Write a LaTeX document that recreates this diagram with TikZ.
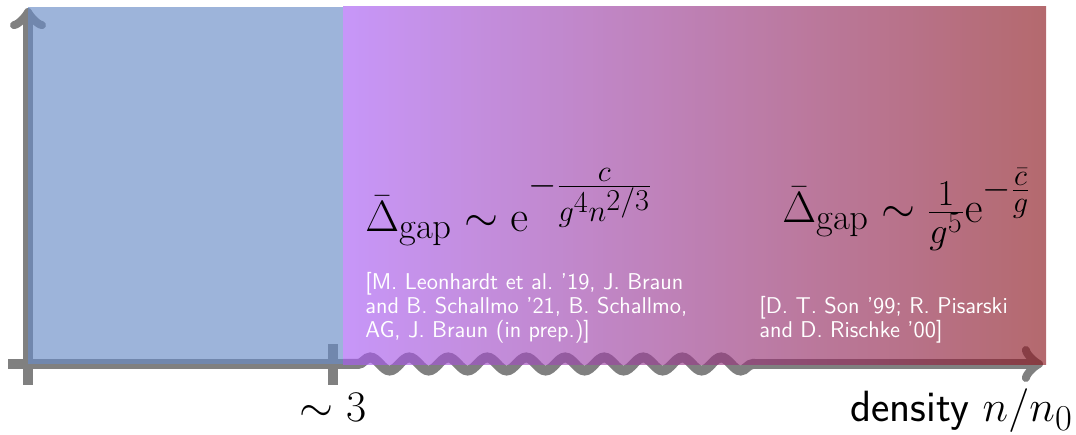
\documentclass[tikz,border=0pt]{standalone}
\usetikzlibrary{decorations.pathmorphing}
\definecolor{axisgray}{RGB}{128,128,128}
\definecolor{lowblue}{RGB}{105,140,198}
\definecolor{cscviolet}{RGB}{169,94,245}
\definecolor{cscred}{RGB}{140,25,32}

\begin{document}
\begin{tikzpicture}[axisline/.style={axisgray, line width=5.7pt},
    refs/.style={anchor=base west, align=left, text=white, inner sep=0pt, font=\sffamily\fontsize{13}{13.8}\selectfont},
    gapformula/.style={anchor=base west, inner sep=0pt, font=\Huge}]
  \useasboundingbox (0,0) rectangle (21.52,8.70);
  \coordinate (ybot) at (0.56,1.0);
  \coordinate (ytop) at (0.56,8.54);
  \coordinate (xleft) at (0.16,1.42);
  \coordinate (xtick) at (6.66,1.42);
  \coordinate (wavestart) at (6.86,1.42);
  \coordinate (waveend) at (15.1,1.42);
  \coordinate (xright) at (20.86,1.42);
  \draw[axisline, ->] (ybot) -- (ytop);
  \draw[axisline] (xleft) -- (wavestart);
  \draw[axisline] ([yshift=-0.42cm]xtick) -- ([yshift=0.4cm]xtick);
  \draw[axisline, decorate, decoration={snake, amplitude=0.13cm, segment length=0.78cm, pre length=0.3cm}] (wavestart) -- (waveend);
  \draw[axisline, ->] (waveend) -- (xright);
  \fill[lowblue, opacity=0.65] (0.56,1.42) rectangle (6.86,8.56);
  \shade[left color=cscviolet, right color=cscred, opacity=0.65] (6.86,1.40) rectangle (20.92,8.56);
  \node[gapformula] (lowgap) at (7.3,4.06) {$\bar\Delta_{\mathrm{gap}} \sim \mathrm{e}^{-\frac{c}{g^4 n^{2/3}}}$};
  \node[refs] (lowrefs) at (7.3,1.94) {[M. Leonhardt et al.\ '19, J. Braun\\and B. Schallmo '21, B. Schallmo,\\AG, J. Braun (in prep.)]};
  \node[gapformula] (highgap) at (15.64,4.24) {$\bar\Delta_{\mathrm{gap}} \sim \frac{1}{g^5}\mathrm{e}^{-\frac{\bar c}{g}}$};
  \node[refs] (highrefs) at (15.18,1.94) {[D. T. Son '99; R. Pisarski\\and D. Rischke '00]};
  \node[anchor=base, inner sep=0pt, font=\fontsize{24}{28}\selectfont] (onset) at (6.66,0.26) {$\sim 3$};
  \node[anchor=base east, inner sep=0pt, font=\Huge\sffamily] (density) at (21.46,0.26) {density $n/n_0$};
\end{tikzpicture}
\end{document}
